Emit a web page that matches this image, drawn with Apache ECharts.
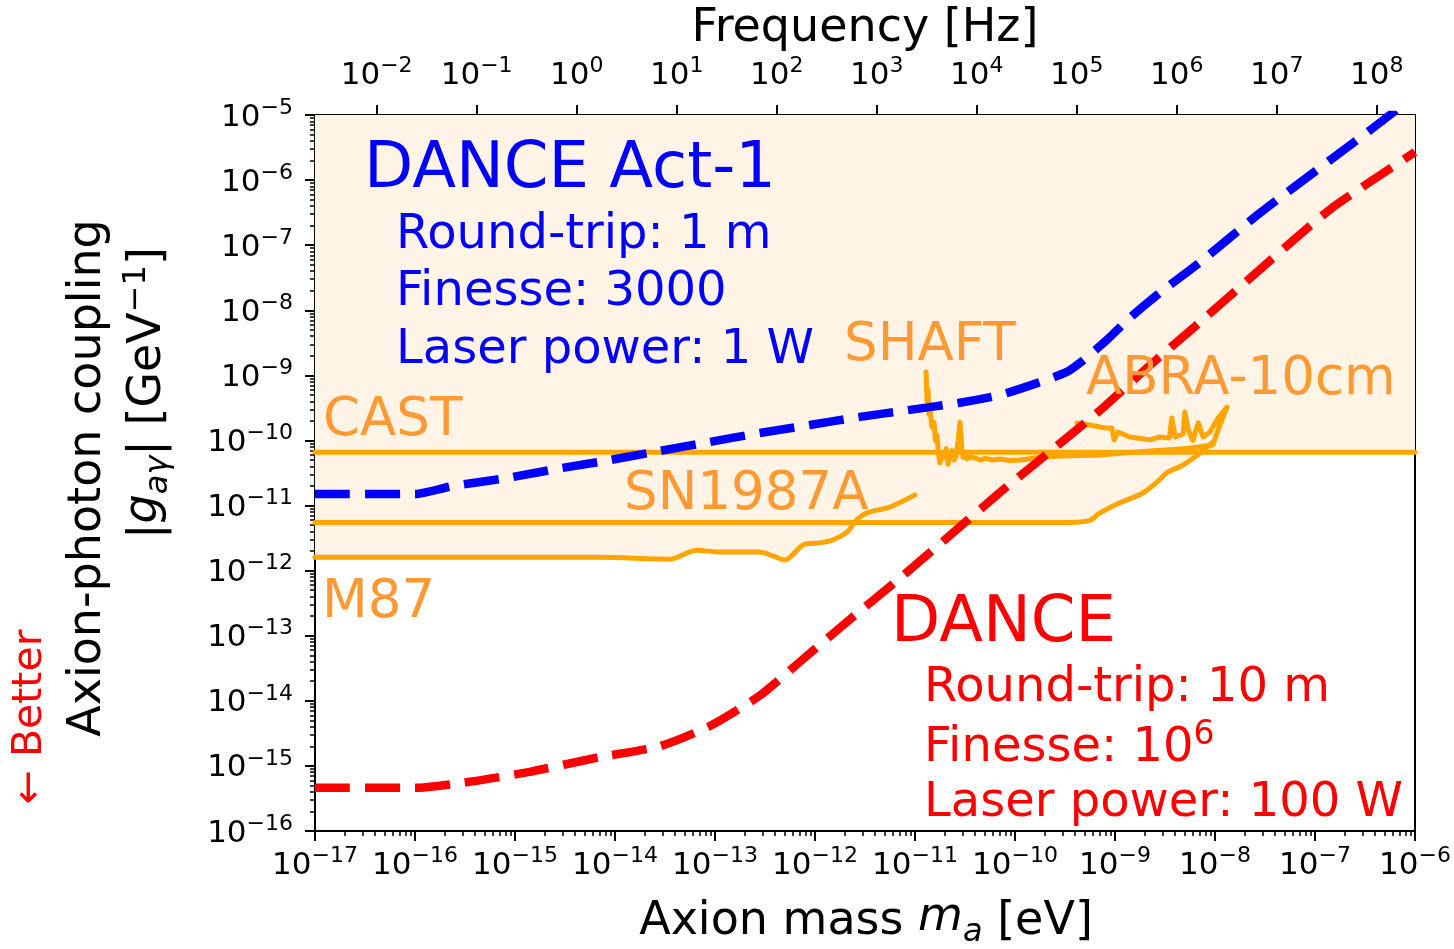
<!DOCTYPE html>
<html>
<head>
<meta charset="utf-8">
<script src="https://cdn.jsdelivr.net/npm/echarts@6/dist/echarts.min.js"></script>
<style>
  html, body { margin: 0; padding: 0; background: #ffffff; }
  #chart { width: 1454px; height: 949px; }
</style>
</head>
<body>
<div id="chart"></div>
<script>
// ---- axis ticks -------------------------------------------------------
const massTicks = [1e-17, 1e-16, 1e-15, 1e-14, 1e-13, 1e-12, 1e-11, 1e-10, 1e-9, 1e-8, 1e-7, 1e-6];
const couplingTicks = [1e-16, 1e-15, 1e-14, 1e-13, 1e-12, 1e-11, 1e-10, 1e-9, 1e-8, 1e-7, 1e-6, 1e-5];
const freqTicks = [1e-2, 1e-1, 1e0, 1e1, 1e2, 1e3, 1e4, 1e5, 1e6, 1e7, 1e8];
const HZ_PER_EV = 2.418e14;   // f = m c^2 / h

// ---- DANCE Act-1 projected sensitivity --------------------------------
const act1Mass = [1e-17, 1e-16, 2.4e-16, 8.3e-16, 2.6e-15, 8.9e-15, 2.8e-14, 8.9e-14, 2.8e-13, 8.9e-13,
  2.8e-12, 8.9e-12, 2.8e-11, 7.1e-11, 1.66e-10, 3.3e-10, 4.8e-10, 8.3e-10, 1.4e-9, 2.8e-9,
  7.1e-9, 2.8e-8, 1.4e-7, 5.6e-7, 1e-6];
const act1Coupling = [1.5e-11, 1.5e-11, 2.0e-11, 2.65e-11, 3.65e-11, 5.0e-11, 6.9e-11, 9.5e-11, 1.3e-10, 1.73e-10,
  2.3e-10, 2.95e-10, 3.8e-10, 5.0e-10, 7.6e-10, 1.13e-9, 1.7e-9, 3.5e-9, 7.6e-9, 1.85e-8,
  5.5e-8, 3.1e-7, 2.0e-6, 1e-5, 2.2e-5];

// ---- DANCE projected sensitivity --------------------------------------
const danceMass = [1e-17, 1e-16, 3.5e-16, 1.4e-15, 7.1e-15, 2.8e-14, 8.9e-14, 2.8e-13, 7.1e-13, 2.2e-12,
  7.1e-12, 2.2e-11, 7.1e-11, 2.2e-10, 7.1e-10, 2.2e-9, 7.1e-9, 2.8e-8, 1.4e-7, 1e-6];
const danceCoupling = [4.6e-16, 4.6e-16, 5.7e-16, 8.1e-16, 1.37e-15, 2.0e-15, 4.1e-15, 1.2e-14, 4.0e-14, 1.75e-13,
  7.7e-13, 3.4e-12, 1.6e-11, 6.6e-11, 2.9e-10, 1.4e-9, 6.6e-9, 4.2e-8, 3.5e-7, 2.7e-6];

// ---- existing limits ---------------------------------------------------
const castMass = [1e-17, 1e-6];
const castCoupling = [6.6e-11, 6.6e-11];

const snMass = [1e-17, 3.5e-10, 5.6e-10, 7.1e-10, 1.12e-9, 1.9e-9, 2.8e-9, 3.3e-9, 4.8e-9, 7.1e-9, 9.3e-9];
const snCoupling = [5.5e-12, 5.5e-12, 5.9e-12, 7.7e-12, 1.1e-11, 1.56e-11, 2.5e-11, 3.2e-11, 4.2e-11, 6.4e-11, 9.2e-11];

const m87Mass = [1e-17, 7.1e-15, 3.5e-14, 6.6e-14, 1.05e-13, 2.8e-13, 3.8e-13, 5.0e-13, 7.6e-13, 1.12e-12,
  1.5e-12, 2.1e-12, 2.6e-12, 3.3e-12, 5.6e-12, 1e-11];
const m87Coupling = [1.6e-12, 1.6e-12, 1.5e-12, 2.05e-12, 1.94e-12, 1.94e-12, 1.68e-12, 1.46e-12, 2.48e-12, 2.67e-12,
  2.96e-12, 3.94e-12, 6.0e-12, 7.7e-12, 9.5e-12, 1.46e-11];

const shaftMass = [1.29e-11, 1.32e-11, 1.35e-11, 1.38e-11, 1.41e-11, 1.48e-11, 1.55e-11, 1.6e-11, 1.66e-11, 1.72e-11,
  1.78e-11, 1.86e-11, 1.95e-11, 2.05e-11, 2.14e-11, 2.24e-11, 2.34e-11, 2.45e-11, 2.57e-11, 2.7e-11,
  2.82e-11, 2.95e-11, 3.02e-11, 3.15e-11, 3.31e-11, 3.6e-11, 3.98e-11, 4.5e-11, 5.0e-11, 6.0e-11,
  7.1e-11, 9.0e-11, 1.12e-10, 1.35e-10, 1.58e-10, 1.9e-10, 2.24e-10];
const shaftCoupling = [1.13e-9, 4.0e-10, 6.0e-10, 2.5e-10, 3.0e-10, 1.6e-10, 1.9e-10, 1.0e-10, 1.2e-10, 6.0e-11,
  4.5e-11, 6.5e-11, 5.5e-11, 7.5e-11, 4.3e-11, 6.0e-11, 7.0e-11, 5.0e-11, 5.6e-11, 1.0e-10,
  1.9e-10, 7.0e-11, 5.5e-11, 6.2e-11, 5.2e-11, 5.6e-11, 5.4e-11, 5.0e-11, 5.3e-11, 5.0e-11,
  5.2e-11, 4.9e-11, 5.0e-11, 5.2e-11, 5.4e-11, 5.6e-11, 6.2e-11];

const abraMass = [2.0e-10, 3.5e-10, 7.1e-10, 1.4e-9, 2.24e-9, 3.5e-9, 5.6e-9, 9.5e-9, 1.12e-8, 1.32e-8,
  1.07e-8, 8.9e-9, 7.6e-9, 6.8e-9, 6.0e-9, 5.4e-9, 5.0e-9, 4.8e-9, 4.0e-9, 3.7e-9,
  3.5e-9, 2.8e-9, 2.24e-9, 1.41e-9, 1.07e-9, 9.8e-10, 9.3e-10, 7.9e-10, 5.6e-10, 4.17e-10];
const abraCoupling = [5.6e-11, 5.8e-11, 6.0e-11, 6.5e-11, 6.9e-11, 7.2e-11, 7.6e-11, 8.5e-11, 1.73e-10, 3.27e-10,
  2.2e-10, 1.35e-10, 1.13e-10, 1.86e-10, 1.0e-10, 1.45e-10, 2.74e-10, 1.26e-10, 1.13e-10, 2.22e-10,
  1.09e-10, 1.13e-10, 1.02e-10, 1.13e-10, 1.35e-10, 1.02e-10, 1.56e-10, 1.56e-10, 1.73e-10, 1.86e-10];

// ---- styling -----------------------------------------------------------
const FONT = 'DejaVu Sans';
const ORANGE = '#ffa500';
const ORANGE_TEXT = '#ff9933';
const EXCLUDED = '#fff4e5';
const BLUE = '#0000ff';
const RED = '#ff0000';

const zip = (xs, ys) => xs.map((x, i) => [x, ys[i]]);

function minorTicks(lo, hi) {
  const out = [];
  for (let e = lo; e < hi; e++) {
    for (let k = 2; k <= 9; k++) out.push(k * Math.pow(10, e));
  }
  return out;
}

function powerLabel(v) {
  const e = Math.round(Math.log10(v));
  return '{b|10}{s|' + (e < 0 ? '\u2212' + (-e) : String(e)) + '}';
}

const tickRich = {
  b: { fontFamily: FONT, fontSize: 31, color: '#000', lineHeight: 36, verticalAlign: 'bottom' },
  s: { fontFamily: FONT, fontSize: 22, color: '#000', lineHeight: 23, verticalAlign: 'top' }
};

const majorTickStyle = { color: '#000', width: 2 };
const minorTickStyle = { color: '#000', width: 1.5 };

function fillSeries(name, data, smooth) {
  return {
    name: name, type: 'line', data: data, symbol: 'none', silent: true, z: 1,
    smooth: smooth || false,
    lineStyle: { width: 0, opacity: 0 },
    areaStyle: { color: EXCLUDED, opacity: 1, origin: 'end' }
  };
}

function limitSeries(name, data, smooth) {
  return {
    name: name, type: 'line', data: data, symbol: 'none', silent: true, z: 3,
    smooth: smooth || false,
    lineStyle: { color: ORANGE, width: 5, cap: 'round', join: 'round' }
  };
}

function projectionSeries(name, data, color) {
  return {
    name: name, type: 'line', data: data, symbol: 'none', silent: true, z: 5,
    smooth: 0.2,
    lineStyle: { color: color, width: 8.5, type: [35, 15] }
  };
}

function text(str, x, y, size, color, extra) {
  return {
    type: 'text', x: x, y: y, z: 100, silent: true,
    style: Object.assign({
      text: str, fontFamily: FONT, fontSize: size, fill: color,
      align: 'left', verticalAlign: 'middle'
    }, extra || {})
  };
}

const chart = echarts.init(document.getElementById('chart'), null, { renderer: 'canvas' });

const option = {
  backgroundColor: '#ffffff',
  animation: false,
  grid: { left: 315, top: 115, width: 1100, height: 716, containLabel: false, outerBoundsMode: 'none' },
  xAxis: [
    {
      type: 'log', logBase: 10, min: 1e-17, max: 1e-6, position: 'bottom',
      axisLine: { show: true, onZero: false, lineStyle: { color: '#000', width: 2 } },
      axisTick: { show: true, inside: false, length: 10, lineStyle: majorTickStyle, customValues: massTicks },
      axisLabel: { show: true, margin: 14, customValues: massTicks, formatter: powerLabel, rich: tickRich,
        showMinLabel: true, showMaxLabel: true },
      splitLine: { show: false }, minorTick: { show: false }
    },
    {
      type: 'log', logBase: 10, min: 1e-17, max: 1e-6, position: 'bottom',
      axisLine: { show: false },
      axisTick: { show: true, inside: false, length: 5, lineStyle: minorTickStyle, customValues: minorTicks(-17, -6) },
      axisLabel: { show: false }, splitLine: { show: false }
    },
    {
      type: 'log', logBase: 10, min: 1e-17 * HZ_PER_EV, max: 1e-6 * HZ_PER_EV, position: 'top',
      axisLine: { show: true, onZero: false, lineStyle: { color: '#000', width: 2 } },
      axisTick: { show: true, inside: false, length: 10, lineStyle: majorTickStyle, customValues: freqTicks },
      axisLabel: { show: true, margin: 24, customValues: freqTicks, formatter: powerLabel, rich: tickRich,
        showMinLabel: true, showMaxLabel: true },
      splitLine: { show: false }
    }
  ],
  yAxis: [
    {
      type: 'log', logBase: 10, min: 1e-16, max: 1e-5, position: 'left',
      axisLine: { show: true, onZero: false, lineStyle: { color: '#000', width: 2 } },
      axisTick: { show: true, inside: false, length: 10, lineStyle: majorTickStyle, customValues: couplingTicks },
      axisLabel: { show: true, margin: 22, customValues: couplingTicks, formatter: powerLabel, rich: tickRich,
        showMinLabel: true, showMaxLabel: true },
      splitLine: { show: false }
    },
    {
      type: 'log', logBase: 10, min: 1e-16, max: 1e-5, position: 'left', offset: 0,
      axisLine: { show: false },
      axisTick: { show: true, inside: false, length: 5, lineStyle: minorTickStyle, customValues: minorTicks(-16, -5) },
      axisLabel: { show: false }, splitLine: { show: false }
    },
    {
      type: 'log', logBase: 10, min: 1e-16, max: 1e-5, position: 'right', offset: 0,
      axisLine: { show: true, onZero: false, lineStyle: { color: '#000', width: 2 } },
      axisTick: { show: false }, axisLabel: { show: false }, splitLine: { show: false }
    }
  ],
  series: [
    fillSeries('M87 excluded', zip(m87Mass, m87Coupling), 0.3),
    fillSeries('SN1987A excluded', zip(snMass, snCoupling), 0.3),
    fillSeries('CAST excluded', zip(castMass, castCoupling)),
    limitSeries('CAST', zip(castMass, castCoupling)),
    limitSeries('SN1987A', zip(snMass, snCoupling), 0.3),
    limitSeries('M87', zip(m87Mass, m87Coupling), 0.3),
    limitSeries('SHAFT', zip(shaftMass, shaftCoupling)),
    limitSeries('ABRA-10cm', zip(abraMass, abraCoupling)),
    projectionSeries('DANCE Act-1', zip(act1Mass, act1Coupling), BLUE),
    projectionSeries('DANCE', zip(danceMass, danceCoupling), RED)
  ],
  graphic: [
    // experiment annotations
    text('DANCE Act-1', 364, 170, 64, BLUE),
    text('Round-trip: 1 m', 396, 236, 48, BLUE),
    text('Finesse: 3000', 396, 293, 48, BLUE),
    text('Laser power: 1 W', 396, 351, 48, BLUE),
    text('DANCE', 891, 624, 64, RED),
    text('Round-trip: 10 m', 924, 689, 48, RED),
    text('{n|Finesse: 10}{s|6}', 924, 746, 48, RED, {
      rich: {
        n: { fontFamily: FONT, fontSize: 48, fill: RED, lineHeight: 54, verticalAlign: 'bottom' },
        s: { fontFamily: FONT, fontSize: 33, fill: RED, lineHeight: 36, verticalAlign: 'top' }
      }
    }),
    text('Laser power: 100 W', 924, 804, 48, RED),
    // limit labels
    text('SHAFT', 844, 346, 53, ORANGE_TEXT),
    text('ABRA-10cm', 1086, 380, 53, ORANGE_TEXT),
    text('CAST', 323, 421, 53, ORANGE_TEXT),
    text('SN1987A', 624, 495, 53, ORANGE_TEXT),
    text('M87', 322, 603, 53, ORANGE_TEXT),
    // axis titles
    text('Frequency [Hz]', 865, 29, 46, '#000', { align: 'center' }),
    text('Axion mass {i|m}{sub|a} [eV]', 866, 922, 46, '#000', {
      align: 'center',
      rich: {
        i: { fontFamily: FONT, fontSize: 46, fontStyle: 'italic', fill: '#000', lineHeight: 54, verticalAlign: 'top' },
        sub: { fontFamily: FONT, fontSize: 32, fontStyle: 'italic', fill: '#000', lineHeight: 36, verticalAlign: 'bottom' }
      }
    }),
    {
      type: 'text', x: 88, y: 478, rotation: Math.PI / 2, z: 100, silent: true,
      style: { text: 'Axion-photon coupling', fontFamily: FONT, fontSize: 46, fill: '#000', align: 'center', verticalAlign: 'middle' }
    },
    {
      type: 'text', x: 148, y: 393, rotation: Math.PI / 2, z: 100, silent: true,
      style: {
        text: '|{i|g}{sub|a\u03b3}| [GeV{sup|\u22121}]', fontFamily: FONT, fontSize: 46, fill: '#000',
        align: 'center', verticalAlign: 'middle',
        rich: {
          i: { fontFamily: FONT, fontSize: 46, fontStyle: 'italic', fill: '#000', lineHeight: 54, verticalAlign: 'top' },
          sub: { fontFamily: FONT, fontSize: 32, fontStyle: 'italic', fill: '#000', lineHeight: 36, verticalAlign: 'bottom' },
          sup: { fontFamily: FONT, fontSize: 32, fill: '#000', lineHeight: 34, verticalAlign: 'top' }
        }
      }
    },
    {
      type: 'text', x: 30, y: 717, rotation: Math.PI / 2, z: 100, silent: true,
      style: { text: '\u2190 Better', fontFamily: FONT, fontSize: 41, fill: RED, align: 'center', verticalAlign: 'middle' }
    }
  ]
};

chart.setOption(option);
</script>
</body>
</html>
